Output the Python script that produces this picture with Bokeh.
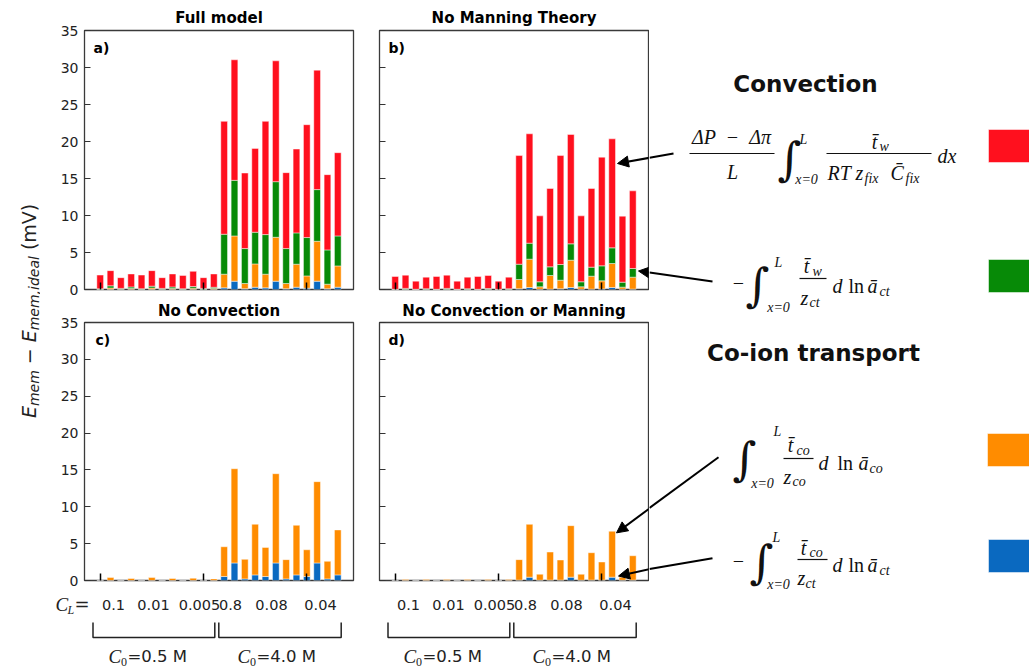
import math
from bokeh.plotting import figure
from bokeh.layouts import row, column
from bokeh.models import (Range1d, LinearAxis, FixedTicker, Arrow, NormalHead, ColumnDataSource)
from bokeh.core.properties import value
from bokeh.embed import file_html
from bokeh.resources import INLINE

# ---------------- data ----------------
bar_index = list(range(24))
cl_labels = ["0.1", "0.01", "0.005", "0.8", "0.08", "0.04"]
c0_labels = ["=0.5 M", "=4.0 M"]
panel_titles = ["Full model", "No Manning Theory", "No Convection", "No Convection or Manning"]
panel_letters = ["a)", "b)", "c)", "d)"]
y_ticks = [0, 5, 10, 15, 20, 25, 30, 35]
x_ticks = [0, 10, 20]

# contributions (mV), per bar, bottom -> top: blue, orange, green, red
a_blue = [0] * 12 + [0.22, 1.12, 0.10, 0.31, 0.22, 1.12, 0.10, 0.31, 0.18, 1.12, 0.09, 0.31]
a_orange = [0, 0.20, 0, 0.15, 0, 0.20, 0, 0.15, 0, 0.18, 0, 0.12,
            1.85, 6.12, 0.71, 3.15, 1.85, 5.94, 0.71, 3.11, 1.66, 5.40, 0.63, 2.88]
a_green = [0.10, 0.30, 0.15, 0.20, 0.10, 0.25, 0.15, 0.20, 0.10, 0.22, 0.15, 0.18,
           5.40, 7.51, 4.72, 4.28, 5.35, 7.51, 4.72, 4.23, 5.18, 6.98, 4.63, 4.05]
a_red = [1.85, 2.05, 1.45, 1.75, 1.85, 2.10, 1.45, 1.75, 1.80, 2.05, 1.45, 1.80,
         15.25, 16.29, 10.21, 11.33, 15.30, 16.33, 10.26, 11.33, 15.25, 16.14, 10.17, 11.25]

b_blue = [0] * 12 + [0.10, 0.27, 0.03, 0.05, 0.10, 0.27, 0.03, 0.05, 0.08, 0.27, 0.03, 0.05]
b_orange = [0] * 12 + [1.25, 3.83, 0.33, 1.84, 1.16, 3.69, 0.33, 1.75, 1.09, 3.24, 0.29, 1.62]
b_green = [0.03, 0.15, 0.03, 0.10, 0.03, 0.15, 0.03, 0.10, 0.03, 0.13, 0.03, 0.10,
           2.07, 2.16, 0.68, 1.17, 2.12, 2.21, 0.68, 1.22, 2.03, 2.12, 0.67, 1.17]
b_red = [1.73, 1.79, 1.10, 1.57, 1.73, 1.79, 1.10, 1.57, 1.73, 1.76, 1.10, 1.57,
         14.68, 14.78, 8.91, 10.59, 14.72, 14.78, 8.91, 10.63, 14.68, 14.73, 8.92, 10.49]

c_blue = [0] * 12 + [0.54, 2.38, 0.22, 0.76, 0.54, 2.38, 0.22, 0.76, 0.54, 2.38, 0.22, 0.76]
c_orange = [0, 0.40, 0, 0.27, 0, 0.40, 0, 0.27, 0, 0.31, 0, 0.22,
            4.04, 12.78, 2.65, 6.87, 3.95, 12.11, 2.61, 6.73, 3.63, 11.03, 2.38, 6.10]

d_blue = [0] * 12 + [0.05, 0.45, 0.03, 0.05, 0.05, 0.45, 0.03, 0.05, 0.05, 0.45, 0.03, 0.05]
d_orange = [0, 0.12, 0, 0.12, 0, 0.12, 0, 0.12, 0, 0.12, 0, 0.12,
            2.78, 7.17, 0.82, 3.81, 2.73, 6.99, 0.82, 3.72, 2.46, 6.23, 0.42, 3.31]

# ---------------- style ----------------
RED = "#ff101e"
GREEN = "#078a07"
ORANGE = "#ff8c00"
BLUE = "#0a69c0"
SANS = "DejaVu Sans"
SERIF = "Liberation Serif"
INK = "#111111"
GREY = "#222222"

X0, X1 = -1.52, 24.52
PPU = 269 / (X1 - X0)


def fx(px):
    return X0 + px / PPU


def make_panel(width, height, bl, br, bt, bb, tick_labels, title, title_standoff):
    p = figure(width=width, height=height, x_range=Range1d(X0, X1), y_range=Range1d(0, 35),
               x_axis_type=None, y_axis_type=None, toolbar_location=None,
               output_backend="svg", min_border_left=bl, min_border_right=br,
               min_border_top=bt, min_border_bottom=bb,
               background_fill_color="white", border_fill_color="white")
    p.outline_line_color = "#3a3a3a"
    p.outline_line_width = 1.3
    yax = LinearAxis(ticker=FixedTicker(ticks=y_ticks), major_tick_in=6, major_tick_out=0,
                     minor_tick_line_color=None, axis_line_color=None,
                     major_tick_line_color="#333333", major_tick_line_width=1.2,
                     major_label_standoff=6, major_label_text_font=SANS,
                     major_label_text_color=GREY)
    if tick_labels:
        yax.major_label_text_font_size = "14px"
    else:
        yax.major_label_text_font_size = "0px"
        yax.major_label_overrides = {t: "" for t in y_ticks}
    p.add_layout(yax, "left")
    xax = LinearAxis(ticker=FixedTicker(ticks=x_ticks), major_tick_in=7, major_tick_out=0,
                     minor_tick_line_color=None, axis_line_color=None,
                     major_tick_line_color="black", major_tick_line_width=1.5,
                     major_label_text_font_size="0px", major_label_standoff=0)
    xax.major_label_overrides = {t: "" for t in x_ticks}
    p.add_layout(xax, "below")
    # panel title: label of a tick-less axis above the frame
    tax = LinearAxis(ticker=FixedTicker(ticks=[]), axis_label=title,
                     axis_label_standoff=title_standoff, axis_label_text_font=SANS,
                     axis_label_text_font_size="15px", axis_label_text_font_style="bold",
                     axis_label_text_color="black", axis_line_color=None,
                     major_tick_line_color=None, minor_tick_line_color=None,
                     major_tick_in=0, major_tick_out=0, major_label_standoff=0,
                     major_label_text_font_size="0px")
    p.add_layout(tax, "above")
    return p


def canvas(width, height, x_left, y_top):
    """plain drawing surface whose data coordinates are page pixels"""
    return figure(width=width, height=height, x_range=Range1d(x_left, x_left + width),
                  y_range=Range1d(y_top + height, y_top), x_axis_type=None, y_axis_type=None,
                  toolbar_location=None, output_backend="svg", min_border=0,
                  outline_line_color=None, background_fill_color="white",
                  border_fill_color="white")


def txt(p, x, y, s, size, font=SANS, style="normal", align="left", baseline="middle",
        color=INK, angle=0.0):
    p.text(x=[x], y=[y], text=[s], angle=angle, text_font=value(font),
           text_font_size=f"{size}px", text_font_style=style, text_align=align,
           text_baseline=baseline, text_color=color)


# ---------------- panels ----------------
# page layout (pixels): panels a/b frame y 30..289, c/d frame y 320..580
pa = make_panel(325, 298, 44, 12, 30, 9, True, panel_titles[0], 4)
pb = make_panel(284, 298, 14, 1, 30, 9, False, panel_titles[1], 4)
pc = make_panel(325, 291, 44, 12, 22, 9, True, panel_titles[2], 3)
pd = make_panel(284, 291, 14, 1, 22, 9, False, panel_titles[3], 3)

STACK4 = ["blue", "orange", "green", "red"]
COL4 = [BLUE, ORANGE, GREEN, RED]
src_a = ColumnDataSource(dict(x=bar_index, blue=a_blue, orange=a_orange, green=a_green, red=a_red))
src_b = ColumnDataSource(dict(x=bar_index, blue=b_blue, orange=b_orange, green=b_green, red=b_red))
src_c = ColumnDataSource(dict(x=bar_index, blue=c_blue, orange=c_orange))
src_d = ColumnDataSource(dict(x=bar_index, blue=d_blue, orange=d_orange))
for p, src, stk, cols in [(pa, src_a, STACK4, COL4), (pb, src_b, STACK4, COL4),
                          (pc, src_c, STACK4[:2], COL4[:2]), (pd, src_d, STACK4[:2], COL4[:2])]:
    p.vbar_stack(stk, x="x", width=0.65, color=cols, line_color="white", line_alpha=0.45,
                 line_width=1, source=src)


def y_top(abs_y):
    return (289 - abs_y) * 35 / 259


def y_bot(abs_y):
    return (580 - abs_y) * 35 / 260


# panel letters (inside the frames)
for p, letter, lx, ly, yf in [(pa, panel_letters[0], 9, 47, y_top), (pb, panel_letters[1], 9, 47, y_top),
                              (pc, panel_letters[2], 11, 338, y_bot), (pd, panel_letters[3], 9, 338, y_bot)]:
    p.text(x=[fx(lx)], y=[yf(ly)], text=[letter], text_font=value(SANS), text_font_size="14px",
           text_font_style="bold", text_align="left", text_baseline="middle", text_color="black")

# arrow parts inside panels b and d
head = dict(size=11, fill_color="black", line_color="black")
pb.add_layout(Arrow(x_start=fx(270), y_start=y_top(157.3), x_end=fx(238), y_end=y_top(163),
                    end=NormalHead(**head), line_width=2, line_color="black"))
pb.add_layout(Arrow(x_start=fx(270), y_start=y_top(271.9), x_end=fx(259), y_end=y_top(270.5),
                    end=NormalHead(**head), line_width=2, line_color="black"))
pd.add_layout(Arrow(x_start=fx(270), y_start=y_bot(507.4), x_end=fx(237), y_end=y_bot(532),
                    end=NormalHead(**head), line_width=2, line_color="black"))
pd.add_layout(Arrow(x_start=fx(270), y_start=y_bot(568.5), x_end=fx(239), y_end=y_bot(575.5),
                    end=NormalHead(**head), line_width=2, line_color="black"))

# ---------------- bottom strip: categories and brackets ----------------
st_bot = canvas(609, 81, 40, 589)
cl_pos = [29, 69, 115, 146, 187, 236]
for base in (84, 379):
    for s, px in zip(cl_labels, cl_pos):
        txt(st_bot, base + px, 604, s, 14.5, align="center", color=GREY)
    for (l, r) in [(8.5, 130.3), (134.3, 256.7)]:
        st_bot.multi_line(xs=[[base + l, base + l, base + r, base + r]],
                          ys=[[622, 637, 637, 622]], line_color="#222222", line_width=1.5)
    for s, px in zip(c0_labels, [24, 153]):
        txt(st_bot, base + px, 656, "C", 19, font=SERIF, style="italic", color=GREY)
        txt(st_bot, base + px + 12.5, 661, "0", 12, font=SERIF, color=GREY)
        txt(st_bot, base + px + 19, 656, s, 16.5, color=GREY)
txt(st_bot, 55, 604, "C", 19, font=SERIF, style="italic", color=GREY)
txt(st_bot, 67, 609, "L", 12, font=SERIF, style="italic", color=GREY)
txt(st_bot, 74, 603, "=", 18, color=GREY)

# ---------------- left canvas: y-axis label ----------------
pl = canvas(40, 670, 0, 0)
R = math.pi / 2
txt(pl, 28, 417.6, "E", 19, style="italic", baseline="alphabetic", angle=R, color=GREY)
txt(pl, 33, 405.6, "mem", 14, style="italic", baseline="alphabetic", angle=R, color=GREY)
txt(pl, 28, 363.7, "\u2212", 19, baseline="alphabetic", angle=R, color=GREY)
txt(pl, 28, 341.8, "E", 19, style="italic", baseline="alphabetic", angle=R, color=GREY)
txt(pl, 33, 329.8, "mem,ideal", 14, style="italic", baseline="alphabetic", angle=R, color=GREY)
txt(pl, 28, 249.6, "(mV)", 19, baseline="alphabetic", angle=R, color=GREY)

# ---------------- right canvas: legend equations ----------------
pr = canvas(380, 670, 649, 0)


def T(x, y, s, size, style="italic", font=SERIF, align="left"):
    txt(pr, x, y, s, size, font=font, style=style, align=align)


def INT(x, y):
    txt(pr, x, y, "\u222b", 46, font="DejaVu Serif", align="center")


def BAR(x0, x1, y):
    pr.segment(x0=[x0], y0=[y], x1=[x1], y1=[y], line_color=INK, line_width=1.2)


T(805, 83, "Convection", 23, style="bold", font=SANS, align="center")
T(813, 352, "Co-ion transport", 23, style="bold", font=SANS, align="center")

TB = "t\u0304"
SUB = 14
# eq 1
T(731, 136, "\u0394P\u2002\u2212\u2002\u0394\u03c0", 20, align="center")
BAR(689, 774, 153)
T(732, 171, "L", 20, align="center")
INT(789, 158)
T(803, 139, "L", SUB, align="center")
T(806, 179, "x=0", SUB, align="center")
T(874, 141, TB, 20, align="center")
T(879, 146, "w", SUB)
BAR(826, 931, 153)
T(827, 172, "RT", 20)
T(855, 172, "z", 20)
T(864, 178, "fix", SUB)
T(890, 172, "C\u0304", 20)
T(905, 178, "fix", SUB)
T(937, 155, "dx", 20)
# eq 2
T(738, 282, "\u2212", 20, style="normal", align="center")
INT(757, 284)
T(778, 262, "L", SUB, align="center")
T(778, 307, "x=0", SUB, align="center")
T(806, 265, TB, 20, align="center")
T(812, 271, "w", SUB)
BAR(799, 826, 278)
T(800, 297, "z", 20)
T(809, 302, "ct", SUB)
T(832, 285, "d", 20)
T(848, 285, "ln", 20, style="normal")
T(867, 285, "\u0101", 20)
T(879, 291, "ct", SUB)
# eq 3
INT(744, 458)
T(777, 431, "L", SUB, align="center")
T(762, 483, "x=0", SUB, align="center")
T(790, 444, TB, 20, align="center")
T(796, 450, "co", SUB)
BAR(783, 813, 458)
T(783, 476, "z", 20)
T(792, 481, "co", SUB)
T(818, 462, "d", 20)
T(837, 462, "ln", 20, style="normal")
T(858, 462, "\u0101", 20)
T(869, 468, "co", SUB)
# eq 4
T(738, 560, "\u2212", 20, style="normal", align="center")
INT(761, 561)
T(776, 537, "L", SUB, align="center")
T(778, 584, "x=0", SUB, align="center")
T(803, 547, TB, 20, align="center")
T(809, 552, "co", SUB)
BAR(797, 827, 559)
T(797, 577, "z", 20)
T(805, 583, "ct", SUB)
T(832, 564, "d", 20)
T(848, 564, "ln", 20, style="normal")
T(867, 564, "\u0101", 20)
T(879, 570, "ct", SUB)

# colour keys
pr.quad(left=[988, 988, 987, 988], right=[1029, 1029, 1029, 1029],
        top=[129, 259, 433, 539], bottom=[162, 292, 466, 572],
        fill_color=[RED, GREEN, ORANGE, BLUE], line_color="white", line_alpha=0.5, line_width=1)

# arrow tails (outside the panels)
pr.segment(x0=[673, 712, 718, 712], y0=[153, 281, 456.7, 557.7],
           x1=[649, 649, 649, 649], y1=[157.3, 271.9, 507.4, 568.5],
           line_color="black", line_width=2)

middle = column(row(pa, pb), row(pc, pd), st_bot)
layout = row(pl, middle, pr)
open("out.html", "w").write(file_html(layout, INLINE))
